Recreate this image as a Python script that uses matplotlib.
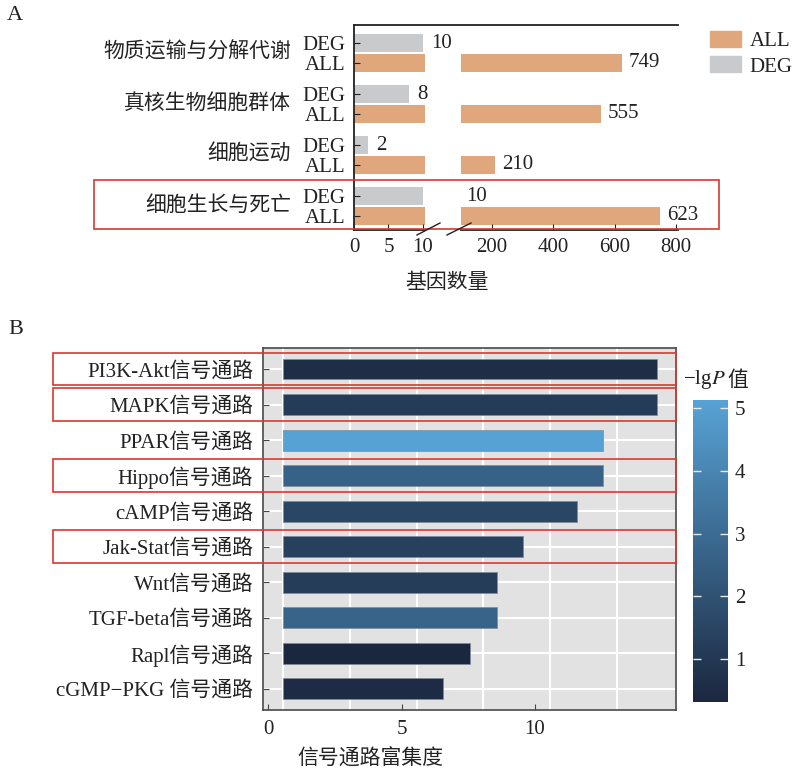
import numpy as np
import matplotlib
matplotlib.use("Agg")
import matplotlib.pyplot as plt
from matplotlib import transforms
from matplotlib.patches import Rectangle, Patch
from matplotlib.lines import Line2D
from matplotlib.colors import LinearSegmentedColormap, Normalize
from matplotlib.cm import ScalarMappable

plt.rcParams['font.family'] = ['Liberation Serif', 'Noto Sans CJK SC']
plt.rcParams['mathtext.fontset'] = 'stix'
plt.rcParams['font.size'] = 15
plt.rcParams['text.color'] = '#222222'
plt.rcParams['xtick.labelcolor'] = '#222222'
plt.rcParams['ytick.labelcolor'] = '#222222'

# panel A data
categories = ["物质运输与分解代谢", "真核生物细胞群体", "细胞运动", "细胞生长与死亡"]
deg_counts = [10, 8, 2, 10]
all_counts = [623, 555, 210, 749]           # bar lengths as drawn
all_labels = ["749", "555", "210", "623"]   # numbers as printed next to the bars

# panel B data
pathways = ["PI3K-Akt信号通路", "MAPK信号通路", "PPAR信号通路", "Hippo信号通路",
            "cAMP信号通路", "Jak-Stat信号通路", "Wnt信号通路", "TGF-beta信号通路",
            "Rapl信号通路", "cGMP−PKG 信号通路"]
enrichment = [14, 14, 12, 12, 11, 9, 8, 8, 7, 6]
neg_lg_p = [0.6, 1.15, 5.13, 2.6, 1.55, 1.3, 1.2, 2.7, 0.32, 0.5]
highlighted = [0, 1, 3, 5]

ORANGE = '#e0a77c'
GREY = '#c9cacc'
RED = '#d63a2f'
DARK = '#222222'

W, H = 796, 776
fig = plt.figure(figsize=(W / 100, H / 100), dpi=100)


def rect(x0, y0, x1, y1):
    # pixel box (top-left origin) -> figure fraction
    return [x0 / W, 1 - y1 / H, (x1 - x0) / W, (y1 - y0) / H]


def fline(x0, y0, x1, y1, **kw):
    fig.add_artist(Line2D([x0 / W, x1 / W], [1 - y0 / H, 1 - y1 / H],
                          transform=fig.transFigure, **kw))


# ---------------- panel A: broken x axis ----------------
axL = fig.add_axes(rect(354, 25, 425, 230))
axR = fig.add_axes(rect(461, 25, 678, 230))
ya = np.arange(len(categories))[::-1]
for ax in (axL, axR):
    ax.barh(ya + 0.19, deg_counts, height=0.35, color=GREY)
    ax.barh(ya - 0.19, all_counts, height=0.35, color=ORANGE)
    ax.set_ylim(-0.47, 3.55)
    ax.spines['top'].set_visible(False)
    ax.spines['right'].set_visible(False)
    ax.spines['bottom'].set_color(DARK)
    ax.spines['bottom'].set_linewidth(1.3)
    ax.tick_params(axis='x', direction='in', length=4, pad=6, labelsize=15, color=DARK)
axL.set_xlim(0, 10.3)
axR.set_xlim(100, 806)
axL.set_xticks([0, 5, 10])
axR.set_xticks([200, 400, 600, 800])
axR.spines['left'].set_visible(False)
axR.set_yticks([])
axL.spines['left'].set_color(DARK)
axL.spines['left'].set_linewidth(1.3)
yt = np.concatenate([ya + 0.19, ya - 0.19])
axL.set_yticks(yt, ["DEG"] * len(ya) + ["ALL"] * len(ya))
axL.tick_params(axis='y', direction='in', length=4, pad=6, labelsize=15, color=DARK)

# continuous top line and break marks
fline(354, 25, 678, 25, color=DARK, lw=1.3)
fline(417, 235, 440, 223, color=DARK, lw=1.0)
fline(447, 235, 471, 223, color=DARK, lw=1.0)

# category labels
tA = transforms.blended_transform_factory(fig.transFigure, axL.transData)
for y, c in zip(ya, categories):
    fig.text(291 / W, y, c, transform=tA, ha='right', va='center', fontsize=15)

# value labels
for i, (y, v) in enumerate(zip(ya, deg_counts)):
    if i < 3:
        axL.annotate(str(v), (v, y + 0.19), xytext=(6, 0), textcoords='offset points',
                     ha='left', va='center', fontsize=15, annotation_clip=False)
    else:
        # last one sits past the break in the original
        axR.annotate(str(v), (axR.get_xlim()[0], y + 0.19), xytext=(4, 0),
                     textcoords='offset points', ha='left', va='center', fontsize=15,
                     annotation_clip=False)
for y, v, lab in zip(ya, all_counts, all_labels):
    axR.annotate(lab, (v, y - 0.19), xytext=(5, 0), textcoords='offset points',
                 ha='left', va='center', fontsize=15, annotation_clip=False)

fig.legend(handles=[Patch(color=ORANGE, label='ALL'), Patch(color=GREY, label='DEG')],
           loc='upper left', bbox_to_anchor=(710 / W, 1 - 31 / H), frameon=False,
           handlelength=1.5, handleheight=0.8, labelspacing=0.25, handletextpad=0.4,
           borderaxespad=0, borderpad=0, fontsize=15)

fig.text(447 / W, 1 - 283 / H, "基因数量", ha='center', va='center', fontsize=15)
fig.add_artist(Rectangle((94 / W, 1 - 229 / H), 625 / W, 49 / H, transform=fig.transFigure,
                         fill=False, ec=RED, lw=1.2))

# ---------------- panel B ----------------
axB = fig.add_axes(rect(263, 347.7, 676, 710))
yb = np.arange(len(pathways))[::-1]
cmap = LinearSegmentedColormap.from_list('lgp', ['#1b273f', '#57a2d5'])
norm = Normalize(0.32, 5.13)
axB.set_facecolor('#e2e2e2')
for gx in np.arange(0, 15, 2.5):
    axB.axvline(gx, color='white', lw=1.5, zorder=1)
for y in yb:
    axB.axhline(y, color='white', lw=1.5, zorder=1)
axB.barh(yb, enrichment, height=0.59, color=cmap(norm(neg_lg_p)),
         edgecolor='#7f8b9a', lw=0.5, zorder=3)
axB.set_xlim(-0.75, 14.72)
axB.set_ylim(-0.6, 9.6)
tick_shift = -0.56  # tick labels sit slightly left of the grid in the original
axB.set_xticks(np.array([0, 5, 10]) + tick_shift, ['0', '5', '10'])
axB.set_yticks(yb, pathways)
axB.tick_params(direction='in', length=4, color='#444444', labelsize=15)
axB.tick_params(axis='y', pad=7)
axB.tick_params(axis='x', pad=7)
for s in axB.spines.values():
    s.set_color('#4a4a4a')
    s.set_linewidth(1.2)

tB = transforms.blended_transform_factory(fig.transFigure, axB.transData)
for r in highlighted:
    axB.add_patch(Rectangle((53 / W, yb[r] - 0.46), (676 - 53) / W, 0.92, transform=tB,
                            fill=False, ec=RED, lw=1.2, clip_on=False, zorder=5))

fig.text(370 / W, 1 - 760 / H, "信号通路富集度", ha='center', va='center', fontsize=15)

cax = fig.add_axes(rect(693, 400, 728, 701.7))
cb = fig.colorbar(ScalarMappable(norm=norm, cmap=cmap), cax=cax, ticks=[1, 2, 3, 4, 5])
cb.outline.set_visible(False)
cax.tick_params(direction='in', color='#e8e8e8', length=6, width=1, left=True, right=True,
                labelleft=False, labelright=True, labelsize=15, pad=5)
# colourbar title: "−lgP" with italic P, then the CJK char as its own text
t1 = fig.text(683 / W, 1 - 384 / H, "−lg$P$", ha='left', va='baseline', fontsize=15)
axB.annotate("值", xy=(1, 0), xycoords=t1, xytext=(1, 0), textcoords='offset points',
             ha='left', va='bottom', fontsize=15, annotation_clip=False)

fig.text(15 / W, 1 - 15 / H, "A", ha='center', va='center', fontsize=16)
fig.text(16 / W, 1 - 329 / H, "B", ha='center', va='center', fontsize=16)

fig.savefig("out.png", dpi=100)
